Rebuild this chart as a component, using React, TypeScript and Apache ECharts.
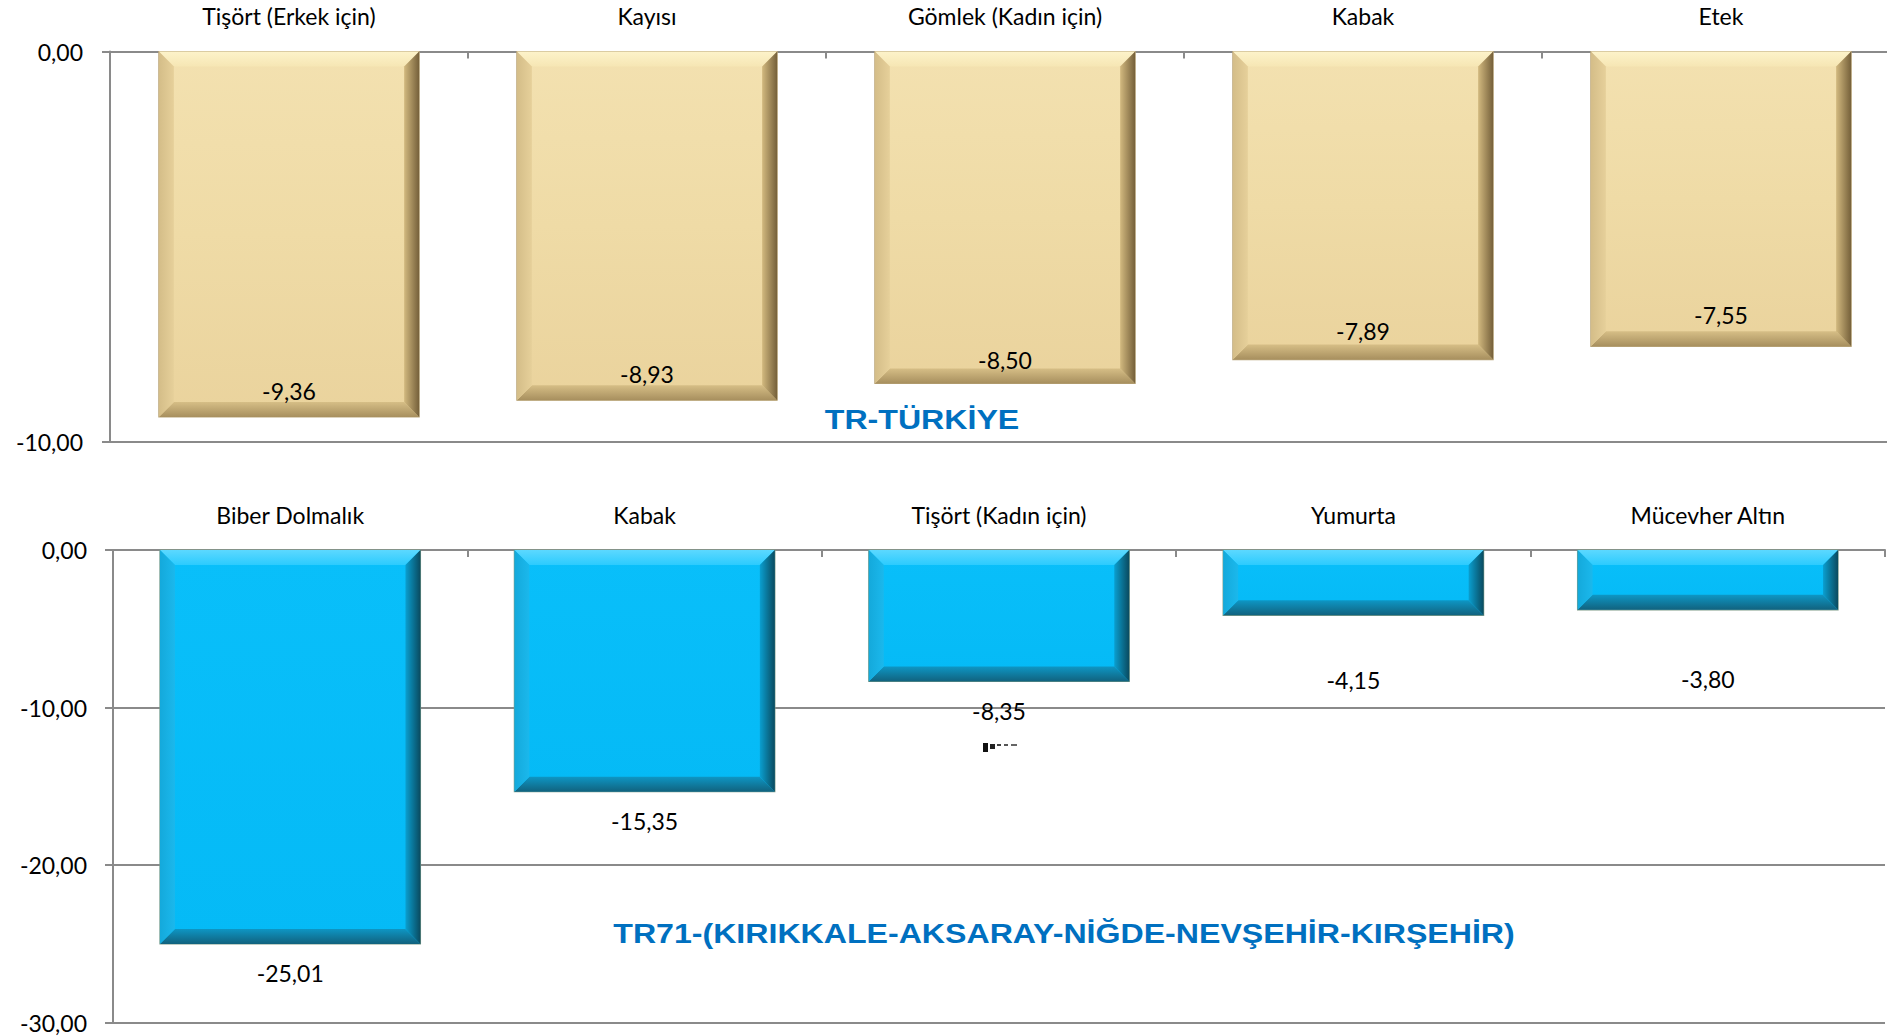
import React, { useEffect, useRef } from "react";
import * as echarts from "echarts";

const topCategories = ["Tişört (Erkek için)", "Kayısı", "Gömlek (Kadın için)", "Kabak", "Etek"];
const topValues = [-9.36, -8.93, -8.5, -7.89, -7.55];
const bottomCategories = ["Biber Dolmalık", "Kabak", "Tişört (Kadın için)", "Yumurta", "Mücevher Altın"];
const bottomValues = [-25.01, -15.35, -8.35, -4.15, -3.8];
const topAxis = { min: -10, max: 0, interval: 10 };
const bottomAxis = { min: -30, max: 0, interval: 10 };
const topTitle = "TR-TÜRKİYE";
const bottomTitle = "TR71-(KIRIKKALE-AKSARAY-NİĞDE-NEVŞEHİR-KIRŞEHİR)";

// distance (px) of each value label from its bar end, as laid out in the original
const topLabelGaps = [26, 26, 23.5, 28.5, 31];
const bottomLabelGaps = [29.5, 29.5, 29.5, 65, 69];

const fmt = (v: number) => v.toFixed(2).replace(".", ",");

const tanTheme = {
  face: { type: "linear", x: 0, y: 0, x2: 0, y2: 1, colorStops: [{ offset: 0, color: "#F3E1B0" }, { offset: 0.5, color: "#EFDBA6" }, { offset: 1, color: "#EAD39D" }] },
  top: { type: "linear", x: 0, y: 0, x2: 0, y2: 1, colorStops: [{ offset: 0, color: "#FDF3CA" }, { offset: 1, color: "#F6E6B4" }] },
  left: { type: "linear", x: 0, y: 0, x2: 1, y2: 0, colorStops: [{ offset: 0, color: "#D4BD88" }, { offset: 1, color: "#E6D09A" }] },
  right: { type: "linear", x: 0, y: 0, x2: 1, y2: 0, colorStops: [{ offset: 0, color: "#D2B97F" }, { offset: 1, color: "#75603A" }] },
  bottom: { type: "linear", x: 0, y: 0, x2: 0, y2: 1, colorStops: [{ offset: 0, color: "#D6BE86" }, { offset: 1, color: "#A78F5E" }] },
  stroke: "#B9A57A",
  labelInside: true,
  ratio: 0.727,
  gaps: topLabelGaps,
};

const blueTheme = {
  face: { type: "linear", x: 0, y: 0, x2: 0, y2: 1, colorStops: [{ offset: 0, color: "#09BFFA" }, { offset: 1, color: "#05BAF6" }] },
  top: { type: "linear", x: 0, y: 0, x2: 0, y2: 1, colorStops: [{ offset: 0, color: "#5CD8FF" }, { offset: 1, color: "#2CCBFE" }] },
  left: { type: "linear", x: 0, y: 0, x2: 1, y2: 0, colorStops: [{ offset: 0, color: "#14A9DB" }, { offset: 1, color: "#1BB8EC" }] },
  right: { type: "linear", x: 0, y: 0, x2: 1, y2: 0, colorStops: [{ offset: 0, color: "#0A9FD0" }, { offset: 1, color: "#0A4A5F" }] },
  bottom: { type: "linear", x: 0, y: 0, x2: 0, y2: 1, colorStops: [{ offset: 0, color: "#0E96C4" }, { offset: 1, color: "#11627E" }] },
  stroke: "#7E9C88",
  labelInside: false,
  ratio: 0.735,
  gaps: bottomLabelGaps,
};

function makeRenderItem(theme: any) {
  return (params: any, api: any) => {
    const idx = api.value(0);
    const val = api.value(1);
    const p0 = api.coord([idx, 0]);
    const p1 = api.coord([idx, val]);
    const cw = api.size([1, 0])[0];
    const w = cw * theme.ratio;
    const x0 = p0[0] - w / 2;
    const x1 = p0[0] + w / 2;
    const y0 = p0[1];
    const y1 = p1[1];
    const b = Math.min(15, (y1 - y0) / 2);
    const gap = theme.gaps[params.dataIndex];
    const labelY = theme.labelInside ? y1 - gap : y1 + gap;
    return {
      type: "group",
      children: [
        { type: "rect", shape: { x: x0, y: y0, width: w, height: y1 - y0 }, style: { fill: theme.face, stroke: theme.stroke, lineWidth: 1.2 } },
        { type: "polygon", shape: { points: [[x0, y0], [x1, y0], [x1 - b, y0 + b], [x0 + b, y0 + b]] }, style: { fill: theme.top } },
        { type: "polygon", shape: { points: [[x0, y1], [x1, y1], [x1 - b, y1 - b], [x0 + b, y1 - b]] }, style: { fill: theme.bottom } },
        { type: "polygon", shape: { points: [[x0, y0], [x0 + b, y0 + b], [x0 + b, y1 - b], [x0, y1]] }, style: { fill: theme.left } },
        { type: "polygon", shape: { points: [[x1, y0], [x1 - b, y0 + b], [x1 - b, y1 - b], [x1, y1]] }, style: { fill: theme.right } },
        {
          type: "text",
          style: {
            text: fmt(val),
            x: p0[0],
            y: labelY,
            align: "center",
            verticalAlign: "middle",
            textAlign: "center",
            textVerticalAlign: "middle",
            fontSize: 23,
            fontFamily: "Lato",
            fill: "#000",
          },
        },
      ],
    };
  };
}

const axisGray = "#8A8A8A";

function xAxisFor(gridIndex: number, cats: string[]) {
  return {
    type: "category",
    gridIndex,
    data: cats,
    position: "top",
    boundaryGap: true,
    axisLine: { onZero: false, lineStyle: { color: axisGray, width: 2 } },
    axisTick: { show: true, inside: true, length: 7, alignWithLabel: false, lineStyle: { color: axisGray, width: 2 } },
    axisLabel: { margin: 24, fontSize: 23, fontFamily: "Lato", color: "#000", interval: 0 },
    splitLine: { show: false },
  };
}

function yAxisFor(gridIndex: number, ax: any, margin: number) {
  return {
    type: "value",
    gridIndex,
    min: ax.min,
    max: ax.max,
    interval: ax.interval,
    axisLine: { show: true, lineStyle: { color: axisGray, width: 2 } },
    axisTick: { show: true, inside: false, length: 8, lineStyle: { color: axisGray, width: 2 } },
    axisLabel: { margin, fontSize: 23, fontFamily: "Lato", color: "#000", formatter: (v: number) => fmt(v) },
    splitLine: { show: true, lineStyle: { color: axisGray, width: 2 } },
  };
}

export default function App() {
  const ref = useRef<HTMLDivElement>(null);
  useEffect(() => {
    if (!ref.current) return;
    const chart = echarts.init(ref.current, null, { renderer: "svg" });
    chart.setOption({
      animation: false,
      backgroundColor: "#ffffff",
      grid: [
        { left: 110, top: 51.5, width: 1790, height: 390.5, containLabel: false, outerBoundsMode: "none" },
        { left: 113, top: 550, width: 1772, height: 472.5, containLabel: false, outerBoundsMode: "none" },
      ],
      xAxis: [xAxisFor(0, topCategories), xAxisFor(1, bottomCategories)],
      yAxis: [yAxisFor(0, topAxis, 27), yAxisFor(1, bottomAxis, 26)],
      series: [
        {
          type: "custom",
          xAxisIndex: 0,
          yAxisIndex: 0,
          data: topValues.map((v, i) => [i, v]),
          encode: { x: 0, y: 1 },
          renderItem: makeRenderItem(tanTheme),
          z: 5,
        },
        {
          type: "custom",
          xAxisIndex: 1,
          yAxisIndex: 1,
          data: bottomValues.map((v, i) => [i, v]),
          encode: { x: 0, y: 1 },
          renderItem: makeRenderItem(blueTheme),
          z: 5,
        },
      ],
      graphic: [
        {
          type: "text",
          x: 922,
          y: 419,
          scaleX: 1.19,
          z: 10,
          style: {
            text: topTitle,
            fontSize: 27,
            fontWeight: "bold",
            fontFamily: "Liberation Sans, Arial",
            fill: "#0070C0",
            textAlign: "center",
            textVerticalAlign: "middle",
            align: "center",
            verticalAlign: "middle",
          },
        },
        {
          type: "text",
          x: 1064,
          y: 933,
          scaleX: 1.19,
          z: 10,
          style: {
            text: bottomTitle,
            fontSize: 27,
            fontWeight: "bold",
            fontFamily: "Liberation Sans, Arial",
            fill: "#0070C0",
            textAlign: "center",
            textVerticalAlign: "middle",
            align: "center",
            verticalAlign: "middle",
          },
        },
        { type: "rect", shape: { x: 983, y: 743, width: 5, height: 9 }, style: { fill: "#111" } },
        { type: "rect", shape: { x: 990, y: 744, width: 5, height: 5 }, style: { fill: "#222" } },
        { type: "rect", shape: { x: 997, y: 744, width: 4, height: 2 }, style: { fill: "#444" } },
        { type: "rect", shape: { x: 1004, y: 744, width: 4, height: 2 }, style: { fill: "#555" } },
        { type: "rect", shape: { x: 1011, y: 744, width: 6, height: 2 }, style: { fill: "#666" } },
      ],
    });
    return () => chart.dispose();
  }, []);
  return (
    <div
      ref={ref}
      style={{ position: "fixed", left: 0, top: 0, width: 1887, height: 1036, background: "#fff" }}
    />
  );
}
